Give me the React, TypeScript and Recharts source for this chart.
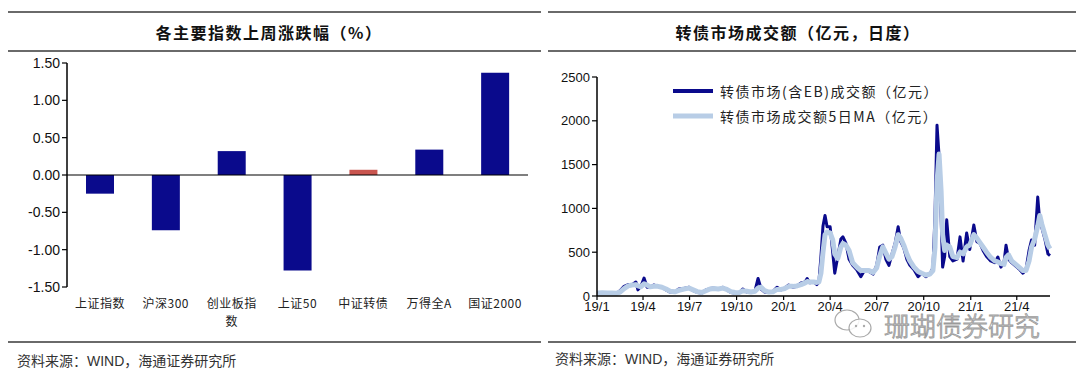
import React from 'react';
import { BarChart, Bar, XAxis, YAxis, Cell, ReferenceLine, LineChart, Line } from 'recharts';

// ---------- Left chart data ----------
const indexNames = ['上证指数', '沪深300', '创业板指数', '上证50', '中证转债', '万得全A', '国证2000'];
const weeklyChange = [-0.25, -0.74, 0.32, -1.28, 0.07, 0.34, 1.37];
const changeTicks = [-1.5, -1.0, -0.5, 0, 0.5, 1.0, 1.5];

// ---------- Right chart data ----------
const tradeDates = [
  '2019-01-02', '2019-01-11', '2019-01-21', '2019-01-30', '2019-02-09', '2019-02-15', '2019-02-23', '2019-03-03',
  '2019-03-10', '2019-03-18', '2019-03-22', '2019-03-28', '2019-04-03', '2019-04-09', '2019-04-15', '2019-04-22',
  '2019-04-30', '2019-05-08', '2019-05-16', '2019-05-24', '2019-06-02', '2019-06-10', '2019-06-20', '2019-06-30',
  '2019-07-08', '2019-07-16', '2019-07-25', '2019-08-02', '2019-08-10', '2019-08-18', '2019-08-26', '2019-09-04',
  '2019-09-12', '2019-09-20', '2019-09-28', '2019-10-06', '2019-10-13', '2019-10-21', '2019-10-29', '2019-11-06',
  '2019-11-12', '2019-11-18', '2019-11-25', '2019-12-03', '2019-12-11', '2019-12-19', '2019-12-27',
  '2020-01-03', '2020-01-11', '2020-01-19', '2020-01-27', '2020-02-04', '2020-02-12', '2020-02-16', '2020-02-21',
  '2020-02-29', '2020-03-06', '2020-03-10', '2020-03-14', '2020-03-18', '2020-03-22', '2020-03-26', '2020-04-01',
  '2020-04-06', '2020-04-10', '2020-04-16', '2020-04-22', '2020-04-26', '2020-05-02', '2020-05-08', '2020-05-15',
  '2020-05-23', '2020-05-31', '2020-06-08', '2020-06-16', '2020-06-24', '2020-07-01', '2020-07-07', '2020-07-13',
  '2020-07-19', '2020-07-25', '2020-07-31', '2020-08-06', '2020-08-12', '2020-08-17', '2020-08-23', '2020-08-29',
  '2020-09-04', '2020-09-12', '2020-09-20', '2020-09-27', '2020-10-05', '2020-10-13', '2020-10-19', '2020-10-23',
  '2020-10-27', '2020-10-31', '2020-11-04', '2020-11-07', '2020-11-11', '2020-11-15', '2020-11-21', '2020-11-27',
  '2020-12-05', '2020-12-11', '2020-12-17', '2020-12-24', '2020-12-30',
  '2021-01-07', '2021-01-13', '2021-01-19', '2021-01-25', '2021-02-01', '2021-02-09', '2021-02-17', '2021-02-23',
  '2021-03-01', '2021-03-07', '2021-03-11', '2021-03-16', '2021-03-22', '2021-03-30', '2021-04-07', '2021-04-13',
  '2021-04-19', '2021-04-25', '2021-04-30', '2021-05-06', '2021-05-12', '2021-05-16', '2021-05-20', '2021-05-26',
  '2021-06-01', '2021-06-05',
];
const dailyTurnover = [
  35, 40, 30, 35, 30, 60, 110, 130,
  125, 160, 70, 110, 205, 100, 100, 125,
  110, 100, 70, 45, 45, 80, 85, 100,
  60, 40, 35, 70, 85, 90, 75, 100,
  70, 40, 35, 35, 80, 45, 40, 60,
  200, 80, 45, 40, 50, 100, 70,
  90, 125, 100, 110, 150, 160, 200, 150,
  160, 130, 160, 450, 800, 920, 790, 790,
  500, 260, 450, 650, 675, 600, 420, 350,
  300, 220, 300, 280, 250, 350, 560, 580,
  420, 350, 480, 600, 790, 620, 550, 420,
  350, 300, 220, 260, 220, 250, 320, 900,
  1950, 1600, 900, 330, 450, 870, 450, 400,
  420, 675, 400, 720, 530,
  810, 620, 600, 520, 450, 400, 380, 445,
  330, 380, 580, 420, 380, 340, 300, 260,
  300, 520, 640, 580, 1130, 850, 780, 650,
  480, 460,
];
const ma5Turnover = [
  35, 38, 35, 33, 32, 45, 85, 115,
  125, 130, 115, 105, 140, 125, 105, 110,
  110, 100, 80, 55, 48, 65, 80, 90,
  70, 50, 40, 60, 80, 85, 80, 90,
  75, 50, 40, 38, 60, 55, 45, 55,
  90, 100, 60, 45, 48, 75, 75,
  85, 110, 110, 115, 130, 150, 165, 160,
  160, 155, 160, 260, 500, 700, 730, 720,
  640, 480, 430, 560, 600, 580, 520, 380,
  330, 290, 290, 290, 270, 320, 460, 560,
  490, 420, 450, 560, 700, 660, 580, 480,
  400, 330, 280, 260, 240, 250, 290, 550,
  1300, 1620, 1200, 700, 520, 580, 560, 450,
  440, 500, 480, 560, 580,
  700, 660, 610, 560, 500, 440, 400, 390,
  370, 360, 440, 470, 400, 360, 320, 290,
  290, 400, 560, 650, 800, 920, 820, 700,
  580, 540,
];
const dateTicks = ['2019-01-01', '2019-04-01', '2019-07-01', '2019-10-01', '2020-01-01', '2020-04-01', '2020-07-01', '2020-10-01', '2021-01-01', '2021-04-01'];
const dateTickLabels = ['19/1', '19/4', '19/7', '19/10', '20/1', '20/4', '20/7', '20/10', '21/1', '21/4'];
const turnoverTicks = [0, 500, 1000, 1500, 2000, 2500];
const seriesNames = ['转债市场(含EB)成交额（亿元）', '转债市场成交额5日MA（亿元）'];

const BASE = Date.UTC(2019, 0, 1);
const dayIndex = (s: string) => {
  const [y, m, d] = s.split('-').map(Number);
  return Math.round((Date.UTC(y, m - 1, d) - BASE) / 86400000);
};

const barData = indexNames.map((name, i) => ({ name, value: weeklyChange[i] }));
const lineData = tradeDates.map((d, i) => ({ t: dayIndex(d), daily: dailyTurnover[i], ma: ma5Turnover[i] }));
const xTicks = dateTicks.map(dayIndex);
const tickLabelMap: Record<number, string> = {};
xTicks.forEach((t, i) => { tickLabelMap[t] = dateTickLabels[i]; });

const NAVY = '#0a0a8c';
const RED = '#c9554f';
const LIGHT = '#b8cde6';
const NUM_FONT = '"Liberation Sans", Arial, sans-serif';
const CJK_FONT = '"Noto Sans CJK SC", "Liberation Sans", sans-serif';

const textWidth = (s: string) => {
  let w = 0;
  for (const ch of s) w += /[\u4e00-\u9fff]/.test(ch) ? 12 : 7;
  return w;
};

const CategoryTick = (props: any) => {
  const { x, y, payload } = props;
  const label: string = payload.value;
  const lines: string[] = [];
  if (textWidth(label) > 56) {
    const chars = Array.from(label);
    lines.push(chars.slice(0, 4).join(''));
    lines.push(chars.slice(4).join(''));
  } else {
    lines.push(label);
  }
  return (
    <g>
      {lines.map((ln, i) => (
        <text key={i} x={x} y={y + 15 + i * 18} textAnchor="middle" dominantBaseline="central"
          fontFamily={CJK_FONT} fontSize={12} letterSpacing={0.5} fill="#222">{ln}</text>
      ))}
    </g>
  );
};

const Rule = ({ x1, x2, y }: { x1: number; x2: number; y: number }) => (
  <div style={{ position: 'absolute', left: x1, top: y - 1, width: x2 - x1, height: 1.5, background: '#6a6a6a' }} />
);

const TextAt = ({ x, y, children, style }: any) => (
  <div style={{ position: 'absolute', left: x, top: y, whiteSpace: 'nowrap', ...style }}>{children}</div>
);

export default function App() {
  return (
    <div style={{ position: 'absolute', left: 0, top: 0, width: 1080, height: 373, background: '#fff', overflow: 'hidden' }}>
      {/* frame lines */}
      <Rule x1={8} x2={541} y={12} />
      <Rule x1={8} x2={541} y={51} />
      <Rule x1={8} x2={541} y={342} />
      <Rule x1={548} x2={1076} y={12} />
      <Rule x1={548} x2={1076} y={51} />
      <Rule x1={548} x2={1076} y={342} />

      {/* titles */}
      <TextAt x={0} y={21} style={{ width: 538, textAlign: 'center', fontFamily: CJK_FONT, fontWeight: 700, fontSize: 16, letterSpacing: 1.5, color: '#111', lineHeight: '22px' }}>
        各主要指数上周涨跌幅（%）
      </TextAt>
      <TextAt x={548} y={21} style={{ width: 500, textAlign: 'center', fontFamily: CJK_FONT, fontWeight: 700, fontSize: 16, letterSpacing: 1.5, color: '#111', lineHeight: '22px' }}>
        转债市场成交额（亿元，日度）
      </TextAt>

      {/* sources */}
      <TextAt x={17} y={350} style={{ fontFamily: CJK_FONT, fontSize: 14, color: '#333', lineHeight: '20px' }}>
        资料来源：<span style={{ fontFamily: NUM_FONT }}>WIND</span>，海通证券研究所
      </TextAt>
      <TextAt x={555} y={348} style={{ fontFamily: CJK_FONT, fontSize: 14, color: '#333', lineHeight: '20px' }}>
        资料来源：<span style={{ fontFamily: NUM_FONT }}>WIND</span>，海通证券研究所
      </TextAt>

      {/* left bar chart */}
      <div style={{ position: 'absolute', left: 0, top: 0 }}>
        <BarChart width={540} height={373} data={barData} margin={{ top: 63, right: 12, bottom: 56, left: 7 }} barCategoryGap={0}>
          <XAxis dataKey="name" axisLine={false} tickLine={false} tickSize={0} tickMargin={0} height={30} interval={0} tick={<CategoryTick />} />
          <YAxis domain={[-1.5, 1.5]} ticks={changeTicks} width={60} interval={0}
            tickFormatter={(v: number) => v.toFixed(2)}
            axisLine={{ stroke: '#000', strokeWidth: 1.5 }} tickLine={{ stroke: '#000', strokeWidth: 1.2 }} tickSize={5}
            tick={{ fontFamily: NUM_FONT, fontSize: 14, fill: '#111' }} />
          <ReferenceLine y={0} stroke="#000" strokeWidth={1.2} />
          <Bar dataKey="value" barSize={28} isAnimationActive={false}>
            {barData.map((d) => (
              <Cell key={d.name} fill={d.name === '中证转债' ? RED : NAVY} />
            ))}
          </Bar>
        </BarChart>
      </div>

      {/* right line chart */}
      <div style={{ position: 'absolute', left: 540, top: 0 }}>
        <LineChart width={540} height={373} data={lineData} margin={{ top: 77, right: 30, bottom: 52, left: 7 }}>
          <XAxis dataKey="t" type="number" domain={[0, 'dataMax']} ticks={xTicks} interval={0}
            tickFormatter={(v: number) => tickLabelMap[v] ?? ''}
            axisLine={{ stroke: '#000', strokeWidth: 1.5 }} tickLine={{ stroke: '#000', strokeWidth: 1.2 }} tickSize={4}
            height={25} tick={{ fontFamily: NUM_FONT, fontSize: 13, fill: '#111' }} />
          <YAxis domain={[0, 2500]} ticks={turnoverTicks} width={50} interval={0}
            axisLine={{ stroke: '#000', strokeWidth: 1.5 }} tickLine={{ stroke: '#000', strokeWidth: 1.2 }} tickSize={5}
            tick={{ fontFamily: NUM_FONT, fontSize: 13, fill: '#111' }} />
          <Line dataKey="daily" name={seriesNames[0]} type="linear" stroke={NAVY} strokeWidth={3} strokeLinejoin="round" dot={false} isAnimationActive={false} />
          <Line dataKey="ma" name={seriesNames[1]} type="linear" stroke={LIGHT} strokeWidth={5} strokeLinejoin="round" dot={false} isAnimationActive={false} />
        </LineChart>
      </div>

      {/* legend */}
      <svg style={{ position: 'absolute', left: 670, top: 79 }} width={380} height={50}>
        <line x1={3} x2={43} y1={12} y2={12} stroke={NAVY} strokeWidth={4} />
        <text x={50} y={12} dominantBaseline="central" fontFamily={CJK_FONT} fontSize={14} letterSpacing={1.5} fill="#222">{seriesNames[0]}</text>
        <line x1={3} x2={43} y1={37} y2={37} stroke={LIGHT} strokeWidth={5} />
        <text x={50} y={37} dominantBaseline="central" fontFamily={CJK_FONT} fontSize={14} letterSpacing={1.5} fill="#222">{seriesNames[1]}</text>
      </svg>

      {/* watermark */}
      <svg style={{ position: 'absolute', left: 820, top: 300 }} width={240} height={46}>
        <ellipse cx={27} cy={20} rx={12} ry={10} fill="rgba(255,255,255,0.85)" stroke="#aaa" strokeWidth={1.2} />
        <ellipse cx={40} cy={28} rx={11} ry={9} fill="rgba(255,255,255,0.85)" stroke="#aaa" strokeWidth={1.2} />
        <circle cx={36} cy={26} r={1.2} fill="#aaa" />
        <circle cx={44} cy={26} r={1.2} fill="#aaa" />
        <text x={64} y={24} dominantBaseline="central" fontFamily={CJK_FONT} fontWeight={300} fontSize={26} fill="#fff" stroke="#9a9a9a" strokeWidth={0.9}>珊瑚债券研究</text>
      </svg>
    </div>
  );
}
